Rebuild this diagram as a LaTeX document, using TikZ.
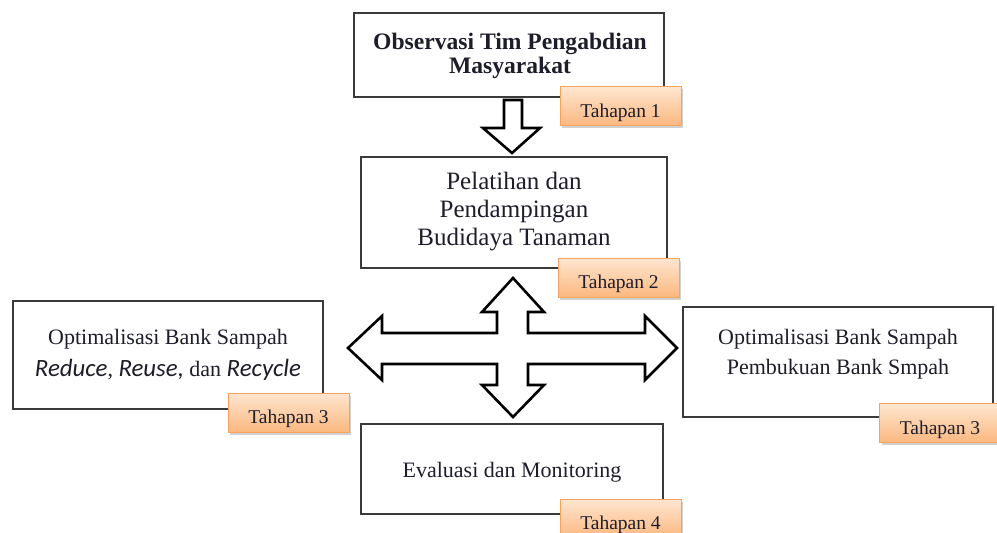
\documentclass[tikz,border=0pt]{standalone}
\usepackage{fontspec}
\setmainfont{Liberation Serif}
\newfontfamily\carlito[Scale=1.13]{Carlito}
\usetikzlibrary{shadows}
\definecolor{txt}{HTML}{1E1E2A}
\definecolor{boxline}{HTML}{3A3A3A}
\definecolor{tagtop}{HTML}{FEE6D0}
\definecolor{tagbot}{HTML}{FBB880}
\definecolor{tagline}{HTML}{F6A35E}
\tikzset{
  stagebox/.style={draw=boxline, line width=1.6pt, fill=white, inner sep=0pt},
  stagetext/.style={text=txt, align=center, inner sep=0pt, font=\fontsize{22}{30}\selectfont},
  tagbox/.style={draw=tagline, line width=0.9pt, top color=tagtop, bottom color=tagbot,
    minimum width=121pt, minimum height=39pt, inner sep=0pt, text=txt,
    font=\fontsize{19.5}{22}\selectfont,
    drop shadow={shadow xshift=2pt, shadow yshift=-2.5pt, opacity=0.3, fill=black!60}},
  blockarrow/.style={draw=black, line width=2.6pt, fill=white, line join=miter}
}
\newcommand{\tagtext}[1]{\raisebox{-6.5pt}[\height][\depth]{#1}}
\begin{document}
\begin{tikzpicture}[x=1pt, y=-1pt]
\useasboundingbox (0,0) rectangle (997,533);
\fill[white] (0,0) rectangle (997,533);

% boxes
\node[stagebox, minimum width=310pt, minimum height=84pt] (b1) at (509,55) {};
\node[stagetext, font=\fontsize{23.6}{23.5}\selectfont\bfseries] (t1) at (510,56)
  {Observasi Tim Pengabdian\\Masyarakat};

\node[stagebox, minimum width=306pt, minimum height=111pt] (b2) at (514,212.5) {};
\node[stagetext, font=\fontsize{25}{28}\selectfont] (t2) at (514,212)
  {Pelatihan dan\\Pendampingan\\Budidaya Tanaman};

\node[stagebox, minimum width=310pt, minimum height=108pt] (b3) at (168,355) {};
\node[stagetext, font=\fontsize{22}{32}\selectfont] (t3) at (168,355)
  {Optimalisasi Bank Sampah\\{\carlito\itshape Reduce}, {\carlito\itshape Reuse,} dan {\carlito\itshape Recycle}};

\node[stagebox, minimum width=310pt, minimum height=110pt] (b4) at (838,362) {};
\node[stagetext, font=\fontsize{22}{30}\selectfont] (t4) at (838,354.5)
  {Optimalisasi Bank Sampah\\Pembukuan Bank Smpah};

\node[stagebox, minimum width=302pt, minimum height=90pt] (b5) at (512,469) {};
\node[stagetext] (t5) at (512,472) {Evaluasi dan Monitoring};

% tags
\node[tagbox] (g1) at (620.5,106) {\tagtext{Tahapan 1}};
\node[tagbox] (g2) at (618.5,277.5) {\tagtext{Tahapan 2}};
\node[tagbox] (g3) at (288.5,412.5) {\tagtext{Tahapan 3}};
\node[tagbox] (g4) at (940,423) {\tagtext{Tahapan 3}};
\node[tagbox] (g5) at (620.5,518.5) {\tagtext{Tahapan 4}};

% down arrow
\draw[blockarrow] (504,100) -- (522,100) -- (522,128) -- (540,128) -- (512,153)
  -- (483,128) -- (504,128) -- cycle;

% cross arrow
\draw[blockarrow]
  (513,278) -- (544,312) -- (528,312) -- (528,333) -- (645,333) -- (645,316)
  -- (677,348) -- (645,380) -- (645,364) -- (528,364) -- (528,385) -- (544,385)
  -- (513,417) -- (482,385) -- (497,385) -- (497,364) -- (382,364) -- (382,380)
  -- (348,348) -- (382,316) -- (382,333) -- (497,333) -- (497,312) -- (482,312)
  -- cycle;
\end{tikzpicture}
\end{document}
